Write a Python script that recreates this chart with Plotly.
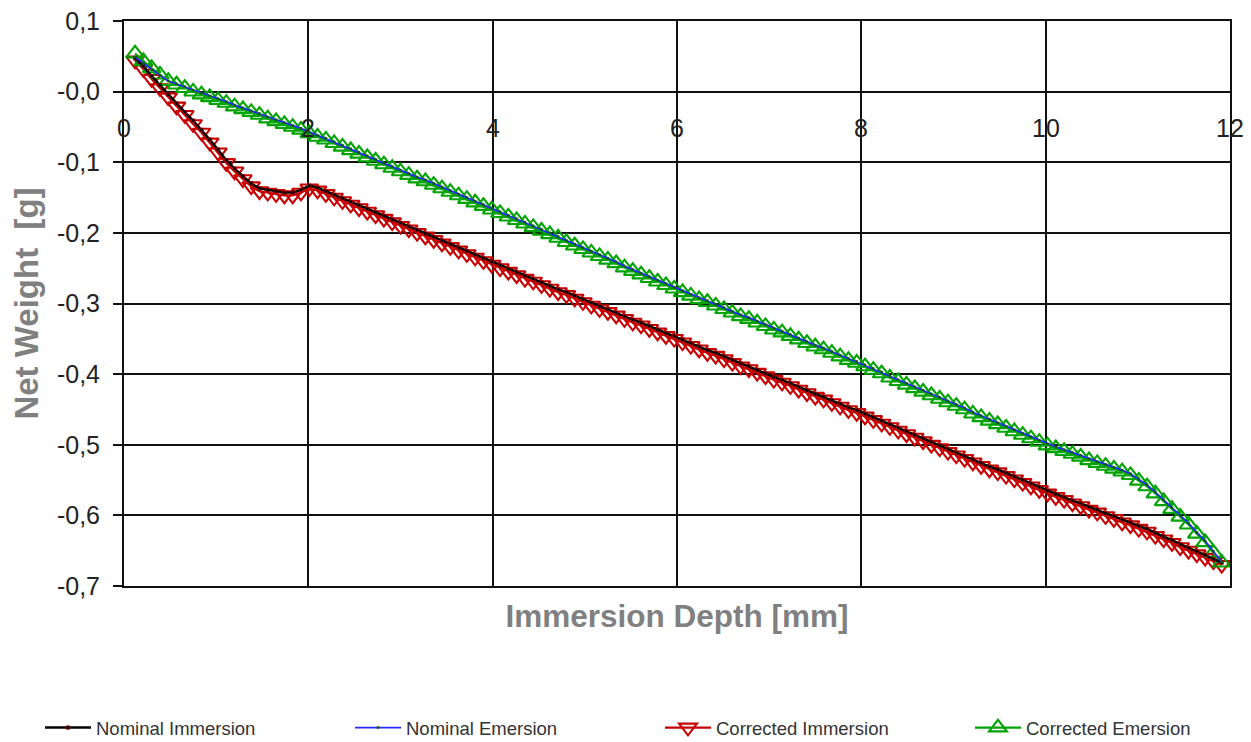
import plotly.graph_objects as go

# ---------------- data ----------------
depth_mm = [
    0.12, 0.21, 0.30, 0.39, 0.48, 0.57, 0.66, 0.75, 0.84, 0.93,
    1.02, 1.11, 1.20, 1.29, 1.38, 1.47, 1.56, 1.65, 1.74, 1.83,
    1.92, 2.01, 2.10, 2.19, 2.28, 2.37, 2.46, 2.55, 2.64, 2.73,
    2.82, 2.91, 3.00, 3.09, 3.18, 3.27, 3.36, 3.45, 3.54, 3.63,
    3.72, 3.81, 3.90, 3.99, 4.08, 4.17, 4.26, 4.35, 4.44, 4.53,
    4.62, 4.71, 4.80, 4.89, 4.98, 5.07, 5.16, 5.25, 5.34, 5.43,
    5.52, 5.61, 5.70, 5.79, 5.88, 5.97, 6.06, 6.15, 6.24, 6.33,
    6.42, 6.51, 6.60, 6.69, 6.78, 6.87, 6.96, 7.05, 7.14, 7.23,
    7.32, 7.41, 7.50, 7.59, 7.68, 7.77, 7.86, 7.95, 8.04, 8.13,
    8.22, 8.31, 8.40, 8.49, 8.58, 8.67, 8.76, 8.85, 8.94, 9.03,
    9.12, 9.21, 9.30, 9.39, 9.48, 9.57, 9.66, 9.75, 9.84, 9.93,
    10.02, 10.11, 10.20, 10.29, 10.38, 10.47, 10.56, 10.65, 10.74, 10.83,
    10.92, 11.01, 11.10, 11.19, 11.28, 11.37, 11.46, 11.55, 11.64, 11.73,
    11.82, 11.91,
]

nominal_immersion = [
    0.047, 0.036, 0.022, 0.009, -0.004, -0.017, -0.029, -0.041, -0.054, -0.068,
    -0.082, -0.097, -0.109, -0.120, -0.130, -0.137, -0.139, -0.141, -0.143, -0.143,
    -0.139, -0.133, -0.136, -0.141, -0.146, -0.151, -0.156, -0.161, -0.166, -0.171,
    -0.176, -0.181, -0.186, -0.191, -0.196, -0.201, -0.206, -0.211, -0.216, -0.221,
    -0.226, -0.231, -0.236, -0.241, -0.246, -0.251, -0.256, -0.261, -0.265, -0.270,
    -0.275, -0.280, -0.284, -0.289, -0.294, -0.299, -0.304, -0.308, -0.313, -0.318,
    -0.323, -0.327, -0.332, -0.337, -0.342, -0.346, -0.351, -0.356, -0.361, -0.366,
    -0.370, -0.375, -0.380, -0.385, -0.389, -0.394, -0.399, -0.404, -0.408, -0.413,
    -0.418, -0.423, -0.428, -0.432, -0.437, -0.442, -0.447, -0.451, -0.456, -0.461,
    -0.466, -0.471, -0.476, -0.481, -0.486, -0.491, -0.496, -0.501, -0.506, -0.511,
    -0.516, -0.521, -0.526, -0.531, -0.535, -0.540, -0.545, -0.550, -0.555, -0.560,
    -0.565, -0.570, -0.574, -0.579, -0.583, -0.588, -0.592, -0.597, -0.601, -0.606,
    -0.610, -0.615, -0.619, -0.625, -0.630, -0.635, -0.641, -0.646, -0.651, -0.656,
    -0.662, -0.667,
]

corrected_immersion = [
    0.044, 0.032, 0.018, 0.005, -0.008, -0.021, -0.033, -0.046, -0.058, -0.072,
    -0.086, -0.101, -0.113, -0.124, -0.134, -0.141, -0.143, -0.145, -0.147, -0.147,
    -0.143, -0.137, -0.140, -0.145, -0.150, -0.155, -0.160, -0.165, -0.170, -0.175,
    -0.180, -0.185, -0.190, -0.195, -0.200, -0.205, -0.210, -0.215, -0.220, -0.225,
    -0.230, -0.235, -0.240, -0.245, -0.250, -0.255, -0.260, -0.265, -0.269, -0.274,
    -0.279, -0.284, -0.288, -0.293, -0.298, -0.303, -0.308, -0.312, -0.317, -0.322,
    -0.327, -0.331, -0.336, -0.341, -0.346, -0.350, -0.355, -0.360, -0.365, -0.370,
    -0.374, -0.379, -0.384, -0.389, -0.393, -0.398, -0.403, -0.408, -0.412, -0.417,
    -0.422, -0.427, -0.432, -0.436, -0.441, -0.446, -0.451, -0.455, -0.460, -0.465,
    -0.470, -0.475, -0.480, -0.485, -0.490, -0.495, -0.500, -0.505, -0.510, -0.515,
    -0.520, -0.525, -0.530, -0.535, -0.539, -0.544, -0.549, -0.554, -0.559, -0.564,
    -0.569, -0.574, -0.578, -0.583, -0.587, -0.592, -0.596, -0.601, -0.605, -0.610,
    -0.614, -0.619, -0.623, -0.629, -0.634, -0.639, -0.645, -0.650, -0.655, -0.660,
    -0.665, -0.670,
]

nominal_emersion = [
    0.049, 0.040, 0.031, 0.023, 0.015, 0.011, 0.007, 0.002, -0.002, -0.006,
    -0.010, -0.014, -0.019, -0.023, -0.027, -0.031, -0.036, -0.040, -0.044, -0.048,
    -0.052, -0.057, -0.062, -0.066, -0.071, -0.076, -0.081, -0.086, -0.091, -0.096,
    -0.101, -0.106, -0.111, -0.116, -0.121, -0.125, -0.130, -0.135, -0.140, -0.145,
    -0.150, -0.155, -0.160, -0.165, -0.170, -0.175, -0.180, -0.185, -0.190, -0.195,
    -0.200, -0.205, -0.211, -0.216, -0.221, -0.226, -0.231, -0.236, -0.241, -0.247,
    -0.252, -0.257, -0.262, -0.267, -0.272, -0.277, -0.282, -0.287, -0.292, -0.296,
    -0.301, -0.306, -0.311, -0.316, -0.320, -0.325, -0.330, -0.335, -0.339, -0.344,
    -0.349, -0.354, -0.359, -0.363, -0.368, -0.373, -0.378, -0.382, -0.387, -0.392,
    -0.397, -0.403, -0.408, -0.413, -0.418, -0.423, -0.428, -0.433, -0.438, -0.443,
    -0.448, -0.454, -0.459, -0.464, -0.469, -0.474, -0.479, -0.484, -0.489, -0.494,
    -0.499, -0.503, -0.507, -0.511, -0.515, -0.520, -0.524, -0.528, -0.532, -0.536,
    -0.541, -0.549, -0.557, -0.567, -0.578, -0.589, -0.600, -0.611, -0.624, -0.636,
    -0.651, -0.666,
]

corrected_emersion = [
    0.054, 0.043, 0.033, 0.024, 0.015, 0.010, 0.005, 0.000, -0.004, -0.008,
    -0.012, -0.016, -0.021, -0.025, -0.029, -0.033, -0.038, -0.042, -0.046, -0.050,
    -0.054, -0.059, -0.064, -0.068, -0.073, -0.078, -0.083, -0.088, -0.093, -0.098,
    -0.103, -0.108, -0.113, -0.118, -0.123, -0.127, -0.132, -0.137, -0.142, -0.147,
    -0.152, -0.157, -0.162, -0.167, -0.172, -0.177, -0.182, -0.187, -0.192, -0.197,
    -0.202, -0.207, -0.213, -0.218, -0.223, -0.228, -0.233, -0.238, -0.243, -0.249,
    -0.254, -0.259, -0.264, -0.269, -0.274, -0.279, -0.284, -0.289, -0.294, -0.298,
    -0.303, -0.308, -0.313, -0.318, -0.322, -0.327, -0.332, -0.337, -0.341, -0.346,
    -0.351, -0.356, -0.361, -0.365, -0.370, -0.375, -0.380, -0.384, -0.389, -0.394,
    -0.399, -0.405, -0.410, -0.415, -0.420, -0.425, -0.430, -0.435, -0.440, -0.445,
    -0.450, -0.456, -0.461, -0.466, -0.471, -0.476, -0.481, -0.486, -0.491, -0.496,
    -0.501, -0.505, -0.509, -0.513, -0.517, -0.522, -0.526, -0.530, -0.534, -0.538,
    -0.543, -0.551, -0.559, -0.569, -0.580, -0.591, -0.602, -0.613, -0.626, -0.638,
    -0.653, -0.667,
]

x_tick_values = [0, 2, 4, 6, 8, 10, 12]
x_tick_labels = ["0", "2", "4", "6", "8", "10", "12"]
y_tick_values = [0.1, 0.0, -0.1, -0.2, -0.3, -0.4, -0.5, -0.6, -0.7]
y_tick_labels = ["0,1", "-0,0", "-0,1", "-0,2", "-0,3", "-0,4", "-0,5", "-0,6", "-0,7"]

x_title = "Immersion Depth [mm]"
y_title = "Net Weight\u00a0\u00a0[g]"

# ---------------- figure ----------------
W, H = 1251, 742
FONT = "Liberation Sans, Arial, sans-serif"
RED = "#c80000"
GREEN = "#00a400"
BLUE = "#2828ff"
LEG_FONT = dict(family=FONT, size=18.5, color="#333333")

fig = go.Figure()

fig.add_trace(go.Scatter(
    x=depth_mm, y=corrected_immersion, name="Corrected Immersion",
    mode="lines+markers", legend="legend3",
    line=dict(color=RED, width=2.2),
    marker=dict(symbol="triangle-down-open", size=15.5, color=RED,
                line=dict(color=RED, width=2.1)),
))
fig.add_trace(go.Scatter(
    x=depth_mm, y=corrected_emersion, name="Corrected Emersion",
    mode="lines+markers", legend="legend4",
    line=dict(color=GREEN, width=2.2),
    marker=dict(symbol="triangle-up-open", size=15.5, color=GREEN,
                line=dict(color=GREEN, width=2.1)),
))
fig.add_trace(go.Scatter(
    x=depth_mm, y=nominal_immersion, name="Nominal Immersion",
    mode="lines+markers", legend="legend",
    line=dict(color="#000000", width=2.4),
    marker=dict(symbol="square", size=3.5, color="#000000",
                line=dict(color=RED, width=0.6)),
))
fig.add_trace(go.Scatter(
    x=depth_mm, y=nominal_emersion, name="Nominal Emersion",
    mode="lines+markers", legend="legend2",
    line=dict(color=BLUE, width=1.8),
    marker=dict(symbol="square", size=2.5, color="#006000"),
))

annotations = []
for v, t in zip(x_tick_values, x_tick_labels):
    annotations.append(dict(
        x=v, y=0, xref="x", yref="y", text=t, showarrow=False,
        xanchor="center", yanchor="top", yshift=-20,
        font=dict(family=FONT, size=25, color="#222222"),
    ))


def leg(px):
    return dict(
        orientation="h", xref="container", yref="container",
        x=px / W, y=1 - 728 / H, xanchor="left", yanchor="middle",
        font=LEG_FONT, bgcolor="rgba(0,0,0,0)", itemwidth=46,
    )


fig.update_layout(
    width=W, height=H,
    paper_bgcolor="white", plot_bgcolor="white",
    margin=dict(l=124, r=21, t=21, b=156, autoexpand=False),
    font=dict(family=FONT, color="#222222"),
    showlegend=True,
    legend=leg(40), legend2=leg(350), legend3=leg(660), legend4=leg(970),
    annotations=annotations,
)

fig.update_xaxes(
    range=[0, 12], tickvals=x_tick_values, showticklabels=False,
    showgrid=True, gridcolor="#111111", gridwidth=2,
    showline=True, linecolor="#111111", linewidth=2, mirror=True,
    zeroline=False, ticks="",
    title=dict(text=x_title, standoff=18,
               font=dict(family=FONT, size=31.5, color="#808080", weight="bold")),
)
fig.update_yaxes(
    range=[-0.7, 0.1], tickvals=y_tick_values, ticktext=y_tick_labels,
    showgrid=True, gridcolor="#111111", gridwidth=2,
    showline=True, linecolor="#111111", linewidth=2, mirror=True,
    zeroline=False, ticks="outside", ticklen=9, tickwidth=2, tickcolor="#111111",
    ticklabelstandoff=8,
    tickfont=dict(family=FONT, size=25, color="#222222"),
    title=dict(text=y_title, standoff=8,
               font=dict(family=FONT, size=33, color="#808080", weight="bold")),
)

fig.write_html(
    "out.html",
    config={"displayModeBar": False},
    post_script="document.body.style.margin='0';document.body.style.overflow='hidden';",
)
